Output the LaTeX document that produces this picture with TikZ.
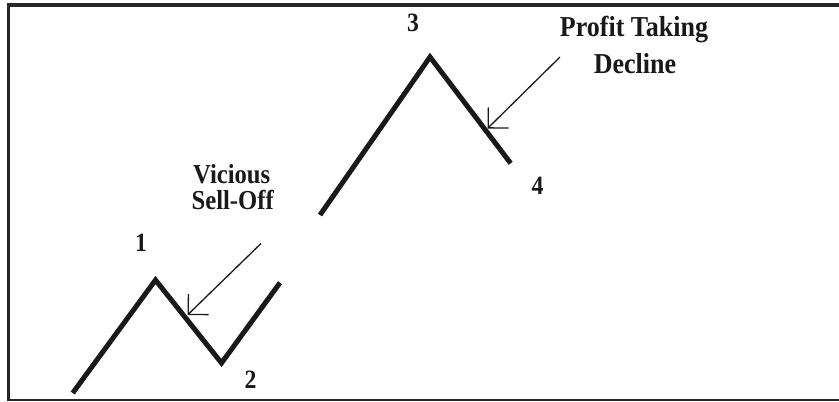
\documentclass[tikz,border=0pt]{standalone}
\usepackage{fontspec}
\setmainfont{Liberation Serif}[FakeStretch=0.9]
\usetikzlibrary{arrows.meta}
\begin{document}
\begin{tikzpicture}[x=1bp,y=-1bp,
  frame/.style={line width=3.6bp, color=black!85, line join=miter},
  wave/.style={line width=5bp, line join=miter, color=black!90},
  pointer/.style={line width=1.3bp, color=black!90, -{Straight Barb[length=14.5bp,width=29bp]}},
  numlbl/.style={inner sep=0, anchor=base, text=black!90, font=\bfseries\fontsize{26.5}{26.5}\selectfont},
  notelbl/.style={inner sep=0, anchor=base, text=black!90, font=\bfseries\fontsize{27.5}{27.5}\selectfont},
  notelblb/.style={inner sep=0, anchor=base, text=black!90, font=\bfseries\fontsize{29}{29}\selectfont}]
\useasboundingbox (0,0) rectangle (839,401);
% frame
\draw[frame] (8.5,400) -- (8.5,4.7) -- (839,4.7);
\draw[line width=1.5bp, color=black!85] (7,400) -- (839,400);
% wave points
\coordinate (w0) at (72.7,393);
\coordinate (p1) at (155.5,280);
\coordinate (p2) at (221.5,363);
\coordinate (w1) at (280,282.7);
\coordinate (w2) at (320,215);
\coordinate (p3) at (430,57);
\coordinate (p4) at (510.7,163.3);
\draw[wave] (w0) -- (p1) -- (p2) -- (w1);
\draw[wave] (w2) -- (p3) -- (p4);
% labels
\node[numlbl] (n1) at (141,251.7) {1};
\node[numlbl] (n2) at (250.5,388.3) {2};
\node[numlbl] (n3) at (413,31.7) {3};
\node[numlbl] (n4) at (537.5,194.3) {4};
\node[notelbl] (v1) at (231.7,183.3) {Vicious};
\node[notelbl] (v2) at (232.7,209.3) {Sell-Off};
\node[notelblb] (t1) at (634,36.7) {Profit Taking};
\node[notelblb] (t2) at (635,73.3) {Decline};
% arrows
\coordinate (a1s) at (261,243.5);
\coordinate (a1e) at (187.5,315);
\coordinate (a2s) at (560,57);
\coordinate (a2e) at (487.5,128.5);
\draw[pointer] (a1s) -- (a1e);
\draw[pointer] (a2s) -- (a2e);
\end{tikzpicture}
\end{document}
